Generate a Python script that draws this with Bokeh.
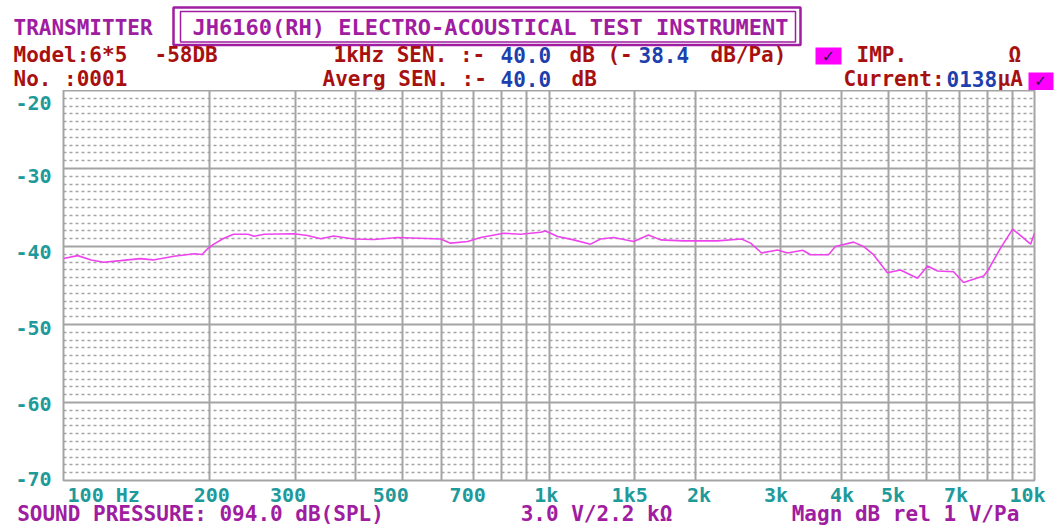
from bokeh.plotting import figure
from bokeh.models import Range1d, FixedTicker, LinearAxis, LinearScale
from bokeh.layouts import column
from bokeh.core.properties import value
from bokeh.embed import file_html
from bokeh.resources import INLINE

# ---------------- data ----------------
freq_hz = [100, 107, 114, 121, 131, 144, 153, 169, 186, 193,
           198, 204, 214, 224, 240, 247, 259, 298, 318, 339,
           360, 396, 436, 488, 598, 627, 680, 723, 807, 874,
           961, 984, 1042, 1124, 1218, 1277, 1359, 1494, 1603, 1697,
           1892, 2223, 2492, 2602, 2741, 2957, 3100, 3330, 3457, 3765,
           3890, 4238, 4443, 4660, 4977, 5296, 5741, 6022, 6315, 6813,
           7143, 7854, 8005, 8513, 9016, 9363, 9817, 10000]
level_db = [-41.55, -41.17, -41.72, -42.01, -41.81, -41.55, -41.72, -41.25, -40.92, -41.02,
            -40.29, -39.70, -38.94, -38.43, -38.43, -38.69, -38.43, -38.37, -38.60, -39.00,
            -38.65, -39.03, -39.10, -38.85, -39.03, -39.57, -39.36, -38.85, -38.31, -38.43,
            -38.18, -38.02, -38.72, -39.15, -39.70, -39.03, -38.85, -39.36, -38.52, -39.15,
            -39.28, -39.28, -39.03, -39.57, -40.83, -40.45, -40.83, -40.49, -41.05, -41.05,
            -39.99, -39.44, -39.99, -41.05, -43.36, -43.02, -44.08, -42.51, -43.14, -43.23,
            -44.62, -43.78, -43.14, -40.20, -37.77, -38.60, -39.70, -38.31]

xtick_pos = [121, 202, 290, 472, 680, 987, 1466, 2038, 2936, 4013, 5112, 6890, 9674]
xtick_labels = ["100 Hz", "200", "300", "500", "700", "1k", "1k5", "2k", "3k", "4k", "5k", "7k", "10k"]
ytick_pos = [-21.6, -30.9, -40.7, -50.4, -60.2, -69.8]
ytick_labels = ["-20", "-30", "-40", "-50", "-60", "-70"]

grid_freqs = [100, 200, 300, 400, 500, 600, 700, 800, 900, 1000, 1500,
              2000, 3000, 4000, 5000, 6000, 7000, 8000, 9000, 10000]
grid_db_major = [-70, -60, -50, -40, -30, -20]
grid_db_minor = [v for v in range(-70, -19) if v % 10 != 0]

title_text = "JH6160(RH) ELECTRO-ACOUSTICAL TEST INSTRUMENT"
device_text = "TRANSMITTER"
model_text = "Model:6*5"
model_db_text = "-58DB"
number_text = "No. :0001"
sens_1k_db = "40.0"
sens_1k_dbpa = "38.4"
sens_avg_db = "40.0"
current_ua = "0138"
footer_texts = ["SOUND PRESSURE: 094.0 dB(SPL)", "3.0 V/2.2 k\u03a9", "Magn dB rel 1 V/Pa"]

# ---------------- styles ----------------
PURPLE = "#a01ca0"
RED = "#a81010"
BLUE = "#1e3fae"
TEAL = "#1e9a9a"
MAGENTA = "#ff00ff"
CHECK = "#1a1a50"
GRID = "#a4a4a4"
CURVE = "#ee44ee"
MONO = "DejaVu Sans Mono"
W = 1058
HEAD_H = 90
MAIN_H = 528 - HEAD_H


def no_align(f):
    if "frame_align" in f.properties():
        f.frame_align = False


# ---------------- header ----------------
head = figure(width=W, height=HEAD_H, x_range=Range1d(0, W), y_range=Range1d(HEAD_H, 0),
              output_backend="svg", toolbar_location=None,
              x_axis_location=None, y_axis_location=None,
              min_border_left=0, min_border_right=0, min_border_top=0, min_border_bottom=0)
head.xgrid.visible = False
head.ygrid.visible = False
head.outline_line_color = None
head.background_fill_color = "white"
head.border_fill_color = "white"
no_align(head)


def txt(s, X, Y, color, size=21, font=MONO, align="left"):
    head.text(x=[X], y=[Y], text=[s], text_color=color, text_font=value(font),
              text_font_style="bold", text_font_size=f"{size}px",
              text_align=align, text_baseline="middle")


txt(device_text, 13, 27, PURPLE)
head.quad(left=[173], right=[800], top=[7], bottom=[44.5], fill_color=None,
          line_color=PURPLE, line_width=2.5)
head.quad(left=[180], right=[795], top=[11], bottom=[41.5], fill_color=None,
          line_color=PURPLE, line_width=1.5)
txt(title_text, 192, 27, PURPLE, size=22)

txt(model_text, 13, 54.5, RED)
txt(model_db_text, 154, 54.5, RED)
txt("1kHz SEN. :-", 333, 54.5, RED)
txt(sens_1k_db, 500, 54.5, BLUE)
txt("dB (-", 569, 54.5, RED)
txt(sens_1k_dbpa, 638, 54.5, BLUE)
txt("dB/Pa)", 710, 54.5, RED)
head.quad(left=[815], right=[841], top=[47], bottom=[64], fill_color=MAGENTA, line_color=None)
txt("\u2713", 828, 56, CHECK, size=16, font="DejaVu Sans", align="center")
txt("IMP.", 856, 54.5, RED)
txt("\u03a9", 1008, 54.5, RED)

txt(number_text, 13, 78, RED)
txt("Averg SEN. :-", 322, 78, RED)
txt(sens_avg_db, 500, 78, BLUE)
txt("dB", 571, 78, RED)
txt("Current:", 843, 78, RED)
txt(current_ua, 946, 78, BLUE)
txt("\u03bcA", 997, 78, RED)
head.quad(left=[1028], right=[1053], top=[72], bottom=[90], fill_color=MAGENTA, line_color=None)
txt("\u2713", 1040, 80.5, CHECK, size=15, font="DejaVu Sans", align="center")

# ---------------- main chart ----------------
p = figure(width=W, height=MAIN_H, x_axis_type="log",
           x_range=Range1d(100, 10000), y_range=Range1d(-70, -20),
           output_backend="svg", toolbar_location=None,
           min_border_left=63, min_border_right=24, min_border_top=0, min_border_bottom=42)
no_align(p)
p.background_fill_color = "white"
p.border_fill_color = "white"
p.outline_line_color = GRID
p.outline_line_width = 2

p.xgrid.ticker = FixedTicker(ticks=grid_freqs)
p.xgrid.grid_line_color = GRID
p.xgrid.grid_line_width = 2
p.ygrid.ticker = FixedTicker(ticks=grid_db_major, minor_ticks=grid_db_minor)
p.ygrid.grid_line_color = GRID
p.ygrid.grid_line_width = 2
p.ygrid.minor_grid_line_color = GRID
p.ygrid.minor_grid_line_width = 1.5
p.ygrid.minor_grid_line_dash = "3 3"

p.xaxis.ticker = FixedTicker(ticks=xtick_pos)
p.xaxis.major_label_overrides = {k: v for k, v in zip(xtick_pos, xtick_labels)}
p.yaxis.ticker = FixedTicker(ticks=ytick_pos)
p.yaxis.major_label_overrides = {k: v for k, v in zip(ytick_pos, ytick_labels)}

# footer line as a second (pixel-positioned) axis below the frequency axis
footer_pos = [200, 596, 905]
p.extra_x_ranges = {"px": Range1d(63, 1034)}
p.extra_x_scales = {"px": LinearScale()}
foot_axis = LinearAxis(x_range_name="px", ticker=FixedTicker(ticks=footer_pos),
                       major_label_overrides={k: v for k, v in zip(footer_pos, footer_texts)})
p.add_layout(foot_axis, "below")

for ax in (p.xaxis[0], p.yaxis[0], foot_axis):
    ax.axis_line_color = None
    ax.major_tick_line_color = None
    ax.minor_tick_line_color = None
    ax.major_tick_in = 0
    ax.major_tick_out = 0
    ax.major_label_text_color = TEAL
    ax.major_label_text_font = MONO
    ax.major_label_text_font_style = "bold"
    ax.major_label_text_font_size = "20px"
p.xaxis[0].major_label_standoff = 2
p.yaxis[0].major_label_standoff = 12
foot_axis.major_label_text_color = PURPLE
foot_axis.major_label_text_font_size = "21px"
foot_axis.major_label_standoff = -8

p.line(freq_hz, level_db, line_color=CURVE, line_width=1.6)

layout = column(head, p, spacing=0)
open("out.html", "w").write(file_html(layout, INLINE))
